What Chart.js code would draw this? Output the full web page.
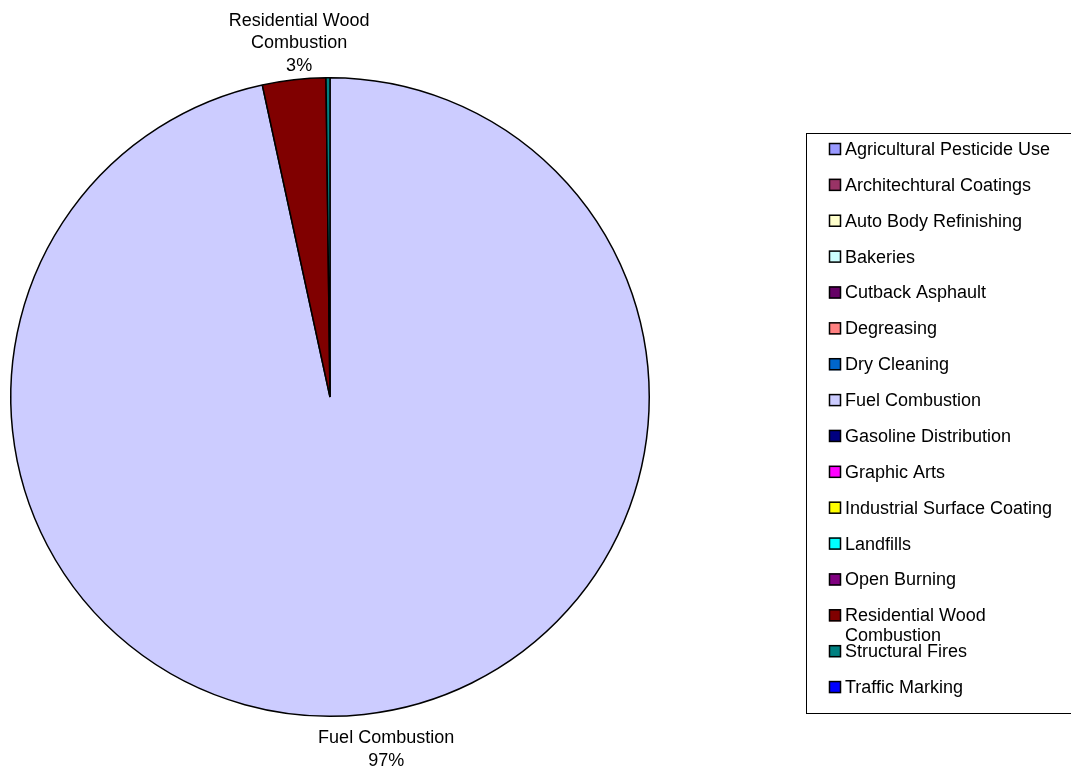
<!DOCTYPE html>
<html>
<head>
<meta charset="utf-8">
<script src="https://cdn.jsdelivr.net/npm/chart.js@4.4.1/dist/chart.umd.min.js"></script>
<style>
  html, body { margin: 0; padding: 0; background: #fff; }
  #wrap { width: 1071px; height: 772px; position: relative; }
</style>
</head>
<body>
<div id="wrap"><canvas id="pieChart"></canvas></div>
<script>
// emission source categories
const sources = [
    "Agricultural Pesticide Use",
    "Architechtural Coatings",
    "Auto Body Refinishing",
    "Bakeries",
    "Cutback Asphault",
    "Degreasing",
    "Dry Cleaning",
    "Fuel Combustion",
    "Gasoline Distribution",
    "Graphic Arts",
    "Industrial Surface Coating",
    "Landfills",
    "Open Burning",
    "Residential Wood Combustion",
    "Structural Fires",
    "Traffic Marking"
];

// share of total (percent)
const shares = [0, 0, 0, 0, 0, 0, 0, 96.6, 0, 0, 0, 0, 0, 3.2, 0.2, 0];

const sliceColors = [
    "#9999FF", "#993366", "#FFFFCC", "#CCFFFF", "#660066", "#FF8080",
    "#0066CC", "#CCCCFF", "#000080", "#FF00FF", "#FFFF00", "#00FFFF",
    "#800080", "#800000", "#008080", "#0000FF"
];

// lines for the outside labels (long names wrap)
const labelLines = {
    "Residential Wood Combustion": ["Residential Wood", "Combustion"],
    "Fuel Combustion": ["Fuel Combustion"]
};

const FONT = "18px 'Liberation Sans', Arial, sans-serif";

// percentage labels outside the pie
const outsideLabels = {
    id: "outsideLabels",
    afterDraw(chart) {
        const ctx = chart.ctx;
        const meta = chart.getDatasetMeta(0);
        const total = shares.reduce((a, b) => a + b, 0);
        ctx.save();
        ctx.font = FONT;
        ctx.fillStyle = "#000";
        ctx.textAlign = "center";
        ctx.textBaseline = "middle";
        meta.data.forEach((arc, i) => {
            const pct = Math.round(shares[i] / total * 100);
            if (pct < 1) return;
            const lines = (labelLines[sources[i]] || [sources[i]]).concat([pct + "%"]);
            const lh = 22.5;
            const w = Math.max(...lines.map(l => ctx.measureText(l).width));
            const h = lines.length * lh;
            const mid = (arc.startAngle + arc.endAngle) / 2;
            const dx = Math.cos(mid), dy = Math.sin(mid);
            const r = arc.outerRadius + 8;
            const cx = arc.x + dx * r + dx * w / 2 + 14;
            const cy = arc.y + dy * r + dy * h / 2 + 5;
            lines.forEach((l, k) => {
                ctx.fillText(l, cx, cy - h / 2 + lh / 2 + k * lh);
            });
        });
        ctx.restore();
    }
};

// boxed legend on the right
const boxLegend = {
    id: "boxLegend",
    afterDraw(chart) {
        const ctx = chart.ctx;
        ctx.save();
        ctx.strokeStyle = "#000";
        ctx.lineWidth = 1;
        ctx.strokeRect(806.5, 133.5, 280, 580);
        ctx.font = FONT;
        ctx.textAlign = "left";
        ctx.textBaseline = "middle";
        const step = 35.87;
        sources.forEach((name, i) => {
            const y = 149 + i * step;
            ctx.fillStyle = sliceColors[i];
            ctx.fillRect(829, y - 6, 12, 12);
            ctx.strokeStyle = "#000";
            ctx.lineWidth = 1.5;
            ctx.strokeRect(829.5, y - 5.5, 11, 11);
            ctx.fillStyle = "#000";
            const lines = labelLines[name] && labelLines[name].length > 1 ? labelLines[name] : [name];
            lines.forEach((l, k) => ctx.fillText(l, 845, y + 1 + k * 20));
        });
        ctx.restore();
    }
};

new Chart(document.getElementById("pieChart"), {
    type: "pie",
    data: {
        labels: sources,
        datasets: [{
            data: shares,
            backgroundColor: sliceColors,
            borderColor: "#000",
            borderWidth: 1.5
        }]
    },
    options: {
        responsive: true,
        maintainAspectRatio: false,
        animation: false,
        layout: {
            padding: { left: 10, right: 421, top: 77, bottom: 55 }
        },
        plugins: {
            legend: { display: false },
            tooltip: { enabled: false }
        }
    },
    plugins: [outsideLabels, boxLegend]
});
</script>
</body>
</html>
